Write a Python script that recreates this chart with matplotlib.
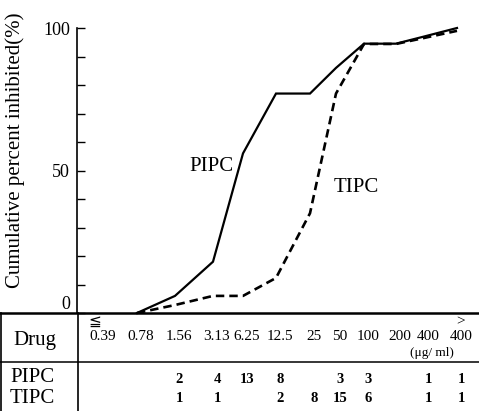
import matplotlib
matplotlib.use("Agg")
import matplotlib.pyplot as plt
import matplotlib.transforms as mtransforms
from matplotlib.lines import Line2D

plt.rcParams["font.family"] = ["Liberation Serif", "DejaVu Serif", "DejaVu Sans"]

# MIC columns of the table (ug/ml)
conc_labels = ["0.39", "0.78", "1.56", "3.13", "6.25", "12.5",
               "25", "50", "100", "200", "400", "400"]
conc_prefix = ["≦", "", "", "", "", "", "", "", "", "", "", ">"]

# number of strains at each MIC (None = blank cell)
pipc_counts = [None, None, 2, 4, 13, 8, None, 3, 3, None, 1, 1]
tipc_counts = [None, None, 1, 1, None, 2, 8, 15, 6, None, 1, 1]

# cumulative percent inhibited, from 0.78 onwards
pipc_cum = [0, 6, 18, 56, 77, 77, 86, 94.5, 94.5, 97, 100]
tipc_cum = [0, 2.8, 6, 6, 12.3, 35, 77, 94.4, 94.4, 96.5, 99]

# layout: column centres in pixel units of the 479x411 canvas
COL_X = [103, 141, 179, 217, 247, 280, 314, 340, 368, 400, 428, 461]
W, H = 479, 411


def fx(x):
    return x / W


def fy(y):
    return 1 - y / H


fig = plt.figure(figsize=(4.79, 4.11), dpi=100)
ax = fig.add_axes([fx(77), fy(313), fx(479) - fx(77), fy(28) - fy(313)])

line_x = [c - 4 for c in COL_X[1:]]
ax.plot(line_x, pipc_cum, color="black", lw=1.6, clip_on=False,
        solid_joinstyle="miter")
ax.plot(line_x, tipc_cum, color="black", lw=1.9, ls=(0, (3.2, 1.9)),
        clip_on=False)

ax.set_xlim(77, 479)
ax.set_ylim(0, 100)
ax.set_xticks([])
ax.set_yticks([0, 50, 100])
ax.set_yticklabels(["0", "50", "100"], fontsize=13)
ax.set_yticks(range(0, 101, 10), minor=True)
ax.tick_params(axis="y", which="both", direction="in", length=5.5, width=1,
               pad=5)
for lab in ax.get_yticklabels():
    if lab.get_text() == "0":
        lab.set_va("bottom")
for side in ["top", "right", "bottom"]:
    ax.spines[side].set_visible(False)
ax.spines["left"].set_linewidth(1.2)

ax.text(211, 51.5, "PIPC", fontsize=15, ha="center", va="center")
ax.text(356, 44.2, "TIPC", fontsize=15, ha="center", va="center")

fig.text(fx(15), fy(150), "Cumulative percent inhibited(%)", rotation=90,
         fontsize=15, ha="center", va="center")

# table grid
for (x0, y0, x1, y1, lw) in [(0, 313, 479, 313, 1.8), (0, 362, 479, 362, 1.1),
                             (78, 313, 78, 411, 1.2), (1, 313, 1, 411, 1.2)]:
    fig.add_artist(Line2D([fx(x0), fx(x1)], [fy(y0), fy(y1)],
                          transform=fig.transFigure, color="black", lw=lw))

trans = mtransforms.blended_transform_factory(ax.transData, fig.transFigure)

fig.text(fx(35), fy(340), "Drug", fontsize=15, ha="center", va="center")
fig.text(fx(10), fy(377), "PIPC", fontsize=15, ha="left", va="center")
fig.text(fx(10), fy(398), "TIPC", fontsize=15, ha="left", va="center")

for i, lab in enumerate(conc_labels):
    ax.text(COL_X[i], fy(336), lab, transform=trans, fontsize=11,
            ha="center", va="center")
    if conc_prefix[i]:
        ax.text(COL_X[i] - (8 if i == 0 else 0), fy(322), conc_prefix[i],
                transform=trans, fontsize=11, ha="center", va="center")
    if pipc_counts[i] is not None:
        ax.text(COL_X[i], fy(379), str(pipc_counts[i]), transform=trans,
                fontsize=10.5, fontweight="bold", ha="center", va="center")
    if tipc_counts[i] is not None:
        ax.text(COL_X[i], fy(398), str(tipc_counts[i]), transform=trans,
                fontsize=10.5, fontweight="bold", ha="center", va="center")

ax.text(432, fy(353), "(μg/ ml)", transform=trans, fontsize=9.5,
        ha="center", va="center")

fig.savefig("out.png", dpi=100)
